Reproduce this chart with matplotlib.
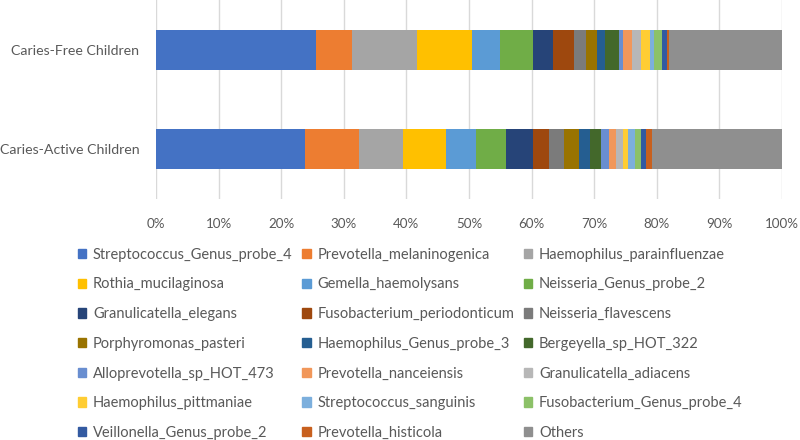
import matplotlib.pyplot as plt
from matplotlib.patches import Patch
from matplotlib.ticker import PercentFormatter

plt.rcParams['font.family'] = ['Lato', 'DejaVu Sans']

# grupos (de abajo hacia arriba)
groups = ['Caries-Active Children', 'Caries-Free Children']

taxa = ['Streptococcus_Genus_probe_4', 'Prevotella_melaninogenica', 'Haemophilus_parainfluenzae',
        'Rothia_mucilaginosa', 'Gemella_haemolysans', 'Neisseria_Genus_probe_2',
        'Granulicatella_elegans', 'Fusobacterium_periodonticum', 'Neisseria_flavescens',
        'Porphyromonas_pasteri', 'Haemophilus_Genus_probe_3', 'Bergeyella_sp_HOT_322',
        'Alloprevotella_sp_HOT_473', 'Prevotella_nanceiensis', 'Granulicatella_adiacens',
        'Haemophilus_pittmaniae', 'Streptococcus_sanguinis', 'Fusobacterium_Genus_probe_4',
        'Veillonella_Genus_probe_2', 'Prevotella_histicola', 'Others']

# abundancia relativa (%) por taxon
caries_active = [23.75, 8.75, 7.0, 6.9, 4.7, 4.8, 4.3, 2.6, 2.3, 2.4, 1.8, 1.8,
                 1.2, 1.2, 1.1, 0.8, 1.1, 1.0, 0.8, 0.9, 20.8]
caries_free = [25.6, 5.7, 10.4, 8.8, 4.5, 5.2, 3.2, 3.3, 2.0, 1.8, 1.3, 2.1,
               0.7, 1.5, 1.3, 1.5, 0.6, 1.4, 0.7, 0.4, 18.0]

colors = ['#4472C4', '#ED7D31', '#A5A5A5', '#FFC000', '#5B9BD5', '#70AD47',
          '#264478', '#9E480E', '#7B7B7B', '#997300', '#255E91', '#43682B',
          '#698ED0', '#F1975A', '#B7B7B7', '#FFCD33', '#7CAFDD', '#8CC168',
          '#335AA1', '#C8601E', '#8F8F8F']

TEXT = '#595959'

fig = plt.figure(figsize=(8, 4.4), dpi=100)
renderer = fig.canvas.get_renderer()


def fit_size(s, target_px, base=10.0):
    # tamaño de letra para que el texto ocupe target_px de ancho
    t = fig.text(0, 0, s, fontsize=base)
    w = t.get_window_extent(renderer).width
    t.remove()
    return base * target_px / w


FS_Y = fit_size('Caries-Active Children', 140)
FS_X = fit_size('100%', 34)
FS_L = fit_size('Streptococcus_Genus_probe_4', 200)

ax = fig.add_axes([0.195, 0.548, 0.7825, 0.452])

left = [0.0, 0.0]
for i, name in enumerate(taxa):
    vals = [caries_active[i], caries_free[i]]
    ax.barh(range(len(groups)), vals, left=left, height=0.4, color=colors[i], label=name)
    left = [l + v for l, v in zip(left, vals)]

ax.set_xlim(0, 100)
ax.set_ylim(-0.5, 1.5)
ax.set_yticks(range(len(groups)))
ax.set_yticklabels(groups)
ax.set_xticks(range(0, 101, 10))
ax.xaxis.set_major_formatter(PercentFormatter(decimals=0))
ax.tick_params(axis='both', length=0, labelcolor=TEXT)
ax.tick_params(axis='x', pad=14, labelsize=FS_X)
ax.tick_params(axis='y', pad=12, labelsize=FS_Y)
ax.grid(axis='x', color='#D9D9D9', linewidth=1)
ax.set_axisbelow(True)
for s in ax.spines.values():
    s.set_visible(False)

# leyenda: Excel llena por filas, matplotlib por columnas
handles = [Patch(color=c) for c in colors]
ncol = 3
nrow = len(taxa) // ncol
order = [r * ncol + c for c in range(ncol) for r in range(nrow)]
px = FS_L * 100 / 72  # tamaño de letra en pixeles


def make_legend(ls, cs):
    lg = fig.legend([handles[k] for k in order], [taxa[k] for k in order],
                    ncol=ncol, loc='upper left', bbox_to_anchor=(0.097, 0.437),
                    frameon=False, fontsize=FS_L, handlelength=0.6, handleheight=0.6,
                    handletextpad=0.45, columnspacing=cs, labelspacing=ls,
                    borderpad=0, borderaxespad=0)
    for t in lg.get_texts():
        t.set_color(TEXT)
    return lg


ls, cs = 1.1, 0.8
leg = make_legend(ls, cs)
fig.canvas.draw()
texts = leg.get_texts()
# distancia entre filas: 29.7 px; segunda columna empieza en x=302 (marcador)
y0 = texts[0].get_window_extent(renderer).y0
y6 = texts[nrow - 1].get_window_extent(renderer).y0
pitch = (y0 - y6) / (nrow - 1)
ls += (29.7 - pitch) / px
col2_text = texts[nrow].get_window_extent(renderer).x0
cs += (302 + 0.6 * px + 0.45 * px - col2_text) / px
leg.remove()
leg = make_legend(ls, cs)

fig.savefig('out.png', dpi=100)
